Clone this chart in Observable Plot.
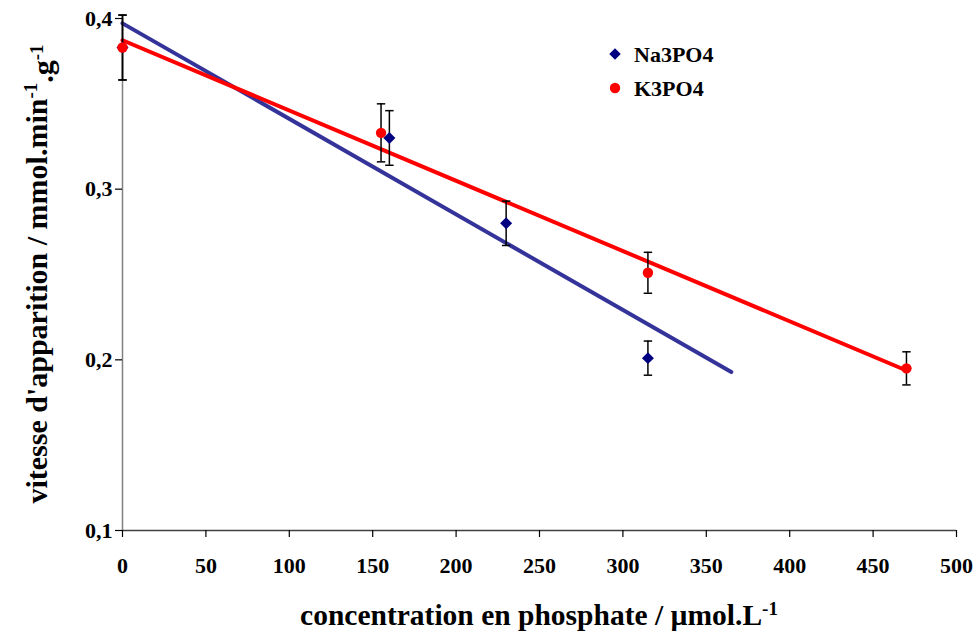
<!DOCTYPE html>
<html>
<head>
<meta charset="utf-8">
<script src="https://cdn.jsdelivr.net/npm/d3@7"></script>
<script src="https://cdn.jsdelivr.net/npm/@observablehq/plot@0.6"></script>
<style>
  html, body { margin: 0; padding: 0; background: #fff; }
  #chart svg { display: block; }
</style>
</head>
<body>
<div id="chart"></div>
<script>
// ---- data ----
const naConc = [0, 160, 230, 315];
const naRate = [0.383, 0.330, 0.280, 0.201];
const naErr  = [0.019, 0.016, 0.013, 0.010];

const kConc = [0, 155, 315, 470];
const kRate = [0.383, 0.333, 0.251, 0.195];
const kErr  = [0.019, 0.017, 0.012, 0.0097];

const seriesNames = ["Na3PO4", "K3PO4"];
const trendEnd = [365, 470];          // extent of each linear trendline
const xTicks = [0, 50, 100, 150, 200, 250, 300, 350, 400, 450, 500];
const yTicks = [0.1, 0.2, 0.3, 0.4];
const xTitle = "concentration en phosphate / µmol.L";
const yTitleParts = ["vitesse d'apparition / mmol.min", "-1", ".g", "-1"];

// ---- build tables ----
const na = naConc.map((c, i) => ({x: c, y: naRate[i], e: naErr[i]}));
const k  = kConc.map((c, i) => ({x: c, y: kRate[i], e: kErr[i]}));

function fit(pts, xEnd) {
  const mx = d3.mean(pts, d => d.x), my = d3.mean(pts, d => d.y);
  const sxy = d3.sum(pts, d => (d.x - mx) * (d.y - my));
  const sxx = d3.sum(pts, d => (d.x - mx) ** 2);
  const b = sxy / sxx, a = my - b * mx;
  return [{x: 0, y: a}, {x: xEnd, y: a + b * xEnd}];
}
const naTrend = fit(na, trendEnd[0]);
const kTrend = fit(k, trendEnd[1]);

const FONT = "'Liberation Serif', 'Times New Roman', serif";
const NAVY = "#000080", RED = "#ff0000", TREND_BLUE = "#333399";

const capSymbol = {
  draw(ctx, size) {
    const r = Math.sqrt(size / Math.PI);
    ctx.moveTo(-r, 0); ctx.lineTo(r, 0);
  }
};

function errMarks(data) {
  return [
    Plot.ruleX(data, {x: "x", y1: d => d.y - d.e, y2: d => d.y + d.e, stroke: "black", strokeWidth: 1.5}),
    Plot.dot(data, {x: "x", y: d => d.y + d.e, symbol: capSymbol, r: 4.2, stroke: "black", strokeWidth: 1.5, fill: "none"}),
    Plot.dot(data, {x: "x", y: d => d.y - d.e, symbol: capSymbol, r: 4.2, stroke: "black", strokeWidth: 1.5, fill: "none"})
  ];
}

const fmt = d => d.toFixed(1).replace(".", ",");

const svg = Plot.plot({
  width: 974,
  height: 632,
  marginLeft: 122,
  marginRight: 18,
  marginTop: 18,
  marginBottom: 102,
  style: {background: "#fff", fontFamily: FONT},
  x: {domain: [0, 500]},
  y: {domain: [0.1, 0.4]},
  marks: [
    Plot.ruleX([0], {stroke: "#808080", strokeWidth: 1.5}),
    Plot.ruleY([0.1], {stroke: "#404040", strokeWidth: 1.5}),
    Plot.axisY({ticks: yTicks, tickFormat: fmt, tickSize: 7, tickPadding: 3, label: null,
      fontSize: 22, fontWeight: "bold", fontFamily: FONT, stroke: "black", strokeWidth: 1.2}),
    Plot.axisX({ticks: xTicks, tickFormat: d => String(d), tickSize: 7, tickPadding: 20, label: null,
      fontSize: 22, fontWeight: "bold", fontFamily: FONT, stroke: "black", strokeWidth: 1.2}),
    Plot.line(naTrend, {x: "x", y: "y", stroke: TREND_BLUE, strokeWidth: 4}),
    Plot.line(kTrend, {x: "x", y: "y", stroke: RED, strokeWidth: 4}),
    ...errMarks(na),
    ...errMarks(k),
    Plot.dot(na, {x: "x", y: "y", symbol: "diamond2", r: 5.4, fill: NAVY, stroke: "none"}),
    Plot.dot(k, {x: "x", y: "y", symbol: "circle", r: 5.2, fill: RED, stroke: "none"})
  ]
});

document.getElementById("chart").appendChild(svg);

const s = d3.select(svg);
// x title
const xt = s.append("text")
  .attr("x", (122 + 956) / 2).attr("y", 625)
  .attr("text-anchor", "middle")
  .style("font-family", FONT).style("font-weight", "bold").style("font-size", "29.5px").attr("fill", "black");
xt.append("tspan").text(xTitle);
xt.append("tspan").text("-1").attr("dy", "-0.55em").style("font-size", "19px");

// y title
const yt = s.append("text")
  .attr("transform", "translate(47,274) rotate(-90)")
  .attr("text-anchor", "middle")
  .style("font-family", FONT).style("font-weight", "bold").style("font-size", "30px").attr("fill", "black");
yt.append("tspan").text(yTitleParts[0]);
yt.append("tspan").text(yTitleParts[1]).attr("dy", "-0.55em").style("font-size", "19px");
yt.append("tspan").text(yTitleParts[2]).attr("dy", "0.55em");
yt.append("tspan").text(yTitleParts[3]).attr("dy", "-0.55em").style("font-size", "19px");

// legend
const lg = s.append("g").attr("text-anchor", "start")
  .style("font-family", FONT).style("font-weight", "bold").style("font-size", "22px");
lg.append("path").attr("d", d3.symbol(d3.symbolDiamond2, 85)()).attr("transform", "translate(615,54)").attr("fill", NAVY);
lg.append("text").attr("x", 634).attr("y", 62).attr("text-anchor", "start").text(seriesNames[0]);
lg.append("circle").attr("cx", 615).attr("cy", 88).attr("r", 5.2).attr("fill", RED);
lg.append("text").attr("x", 634).attr("y", 96).attr("text-anchor", "start").text(seriesNames[1]);
</script>
</body>
</html>
